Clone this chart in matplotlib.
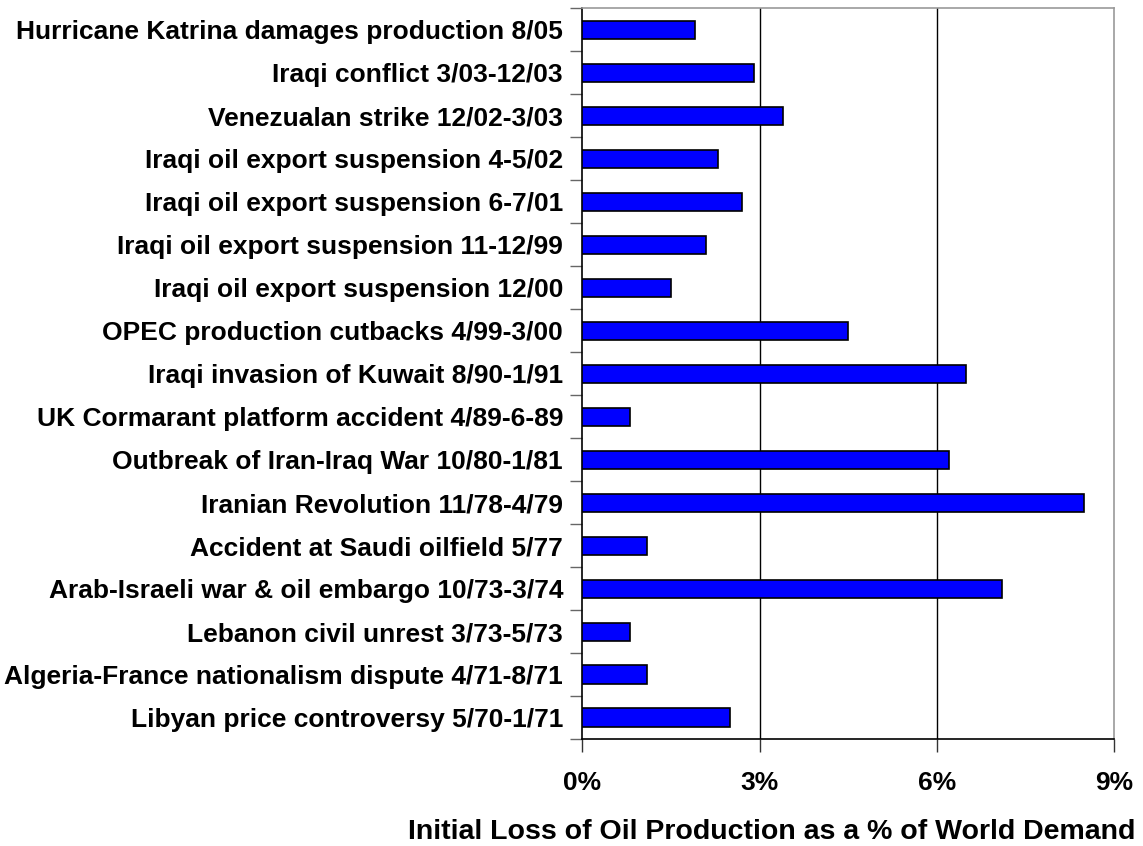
import numpy as np
import matplotlib.pyplot as plt
from matplotlib.ticker import FixedLocator, FuncFormatter

# supply disruptions, listed top to bottom
events = [
    "Hurricane Katrina damages production 8/05",
    "Iraqi conflict 3/03-12/03",
    "Venezualan strike 12/02-3/03",
    "Iraqi oil export suspension 4-5/02",
    "Iraqi oil export suspension 6-7/01",
    "Iraqi oil export suspension 11-12/99",
    "Iraqi oil export suspension 12/00",
    "OPEC production cutbacks 4/99-3/00",
    "Iraqi invasion of Kuwait 8/90-1/91",
    "UK Cormarant platform accident 4/89-6-89",
    "Outbreak of Iran-Iraq War 10/80-1/81",
    "Iranian Revolution 11/78-4/79",
    "Accident at Saudi oilfield 5/77",
    "Arab-Israeli war & oil embargo 10/73-3/74",
    "Lebanon civil unrest 3/73-5/73",
    "Algeria-France nationalism dispute 4/71-8/71",
    "Libyan price controversy 5/70-1/71",
]
# initial loss, % of world demand
loss_pct = [1.9, 2.9, 3.4, 2.3, 2.7, 2.1, 1.5, 4.5, 6.5, 0.8,
            6.2, 8.5, 1.1, 7.1, 0.8, 1.1, 2.5]
x_ticks = [0, 3, 6, 9]

plt.rcParams['font.family'] = ['Liberation Sans', 'DejaVu Sans']
plt.rcParams['font.weight'] = 'bold'

fig = plt.figure(figsize=(11.43, 8.46), dpi=100)
ax = fig.add_axes([0.5096, 0.1265, 0.4650, 0.8637])

n = len(events)
ypos = np.arange(n)[::-1]
ax.barh(ypos, loss_pct, height=0.42, color='#0000FF',
        edgecolor='black', linewidth=1.2, zorder=3)

ax.set_xlim(0, 9)
ax.set_ylim(-0.5, n - 0.5)

# gridlines at the inner x ticks only
for v in x_ticks[1:-1]:
    ax.axvline(v, color='black', linewidth=1, zorder=1)

ax.set_xticks(x_ticks)
ax.xaxis.set_major_formatter(FuncFormatter(lambda v, p: f"{v:.0f}%"))
ax.tick_params(axis='x', direction='out', length=9, width=1,
               color='#333333', pad=14, labelsize=19)

ax.set_yticks(ypos)
ax.set_yticklabels(events)
ax.tick_params(axis='y', which='major', length=0, pad=14, labelsize=19)
ax.yaxis.set_minor_locator(FixedLocator(np.arange(-0.5, n, 1.0)))
ax.tick_params(axis='y', which='minor', direction='out', length=9,
               width=1, color='#666666')

for lbl in ax.get_xticklabels() + ax.get_yticklabels():
    lbl.set_fontweight('bold')

ax.spines['left'].set_color('black')
ax.spines['bottom'].set_color('black')
ax.spines['top'].set_color('#999999')
ax.spines['right'].set_color('#999999')
for s in ax.spines.values():
    s.set_linewidth(1.2)

fig.text(1135 / 1143, 1 - 832 / 846,
         "Initial Loss of Oil Production as a % of World Demand",
         ha='right', va='center', fontsize=20.5, fontweight='bold')

fig.savefig('out.png', dpi=100, facecolor='white')
